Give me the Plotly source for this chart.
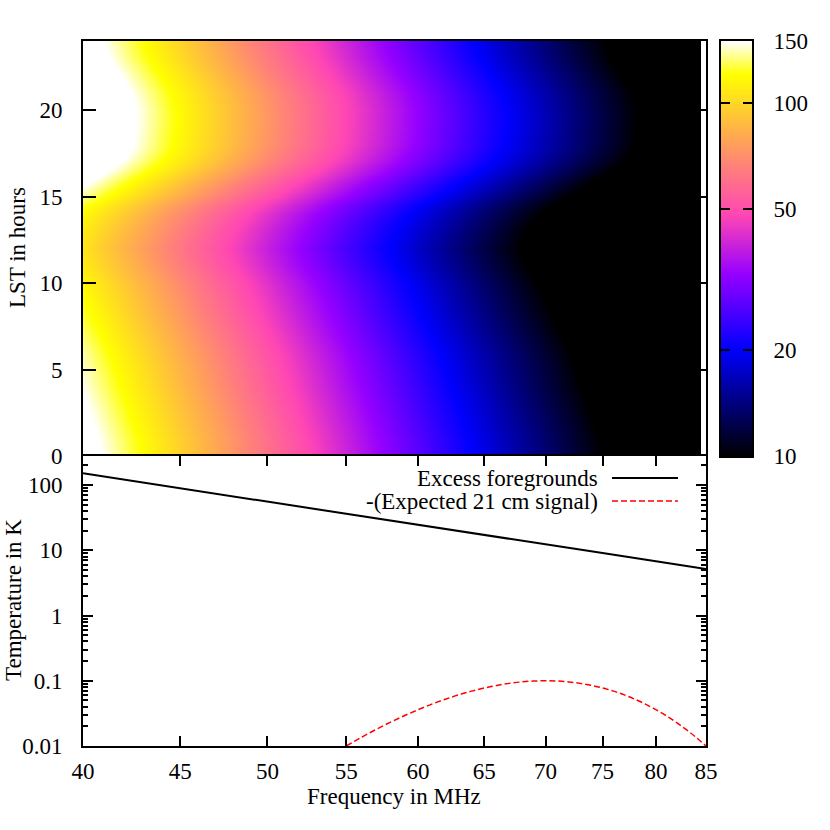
"""Sky temperature vs. frequency and LST, with foregrounds and 21 cm signal below."""

import numpy as np
import plotly.graph_objects as go

W, H = 830, 830
FONT = "Liberation Serif"
FS = 23

# heatmap, T in K: one row per LST value, one column per frequency
freq_map = [40, 45, 50, 55, 60, 65, 70, 75, 80, 84.0, 84.3]
lst = [0, 1, 2, 3, 4, 5, 6, 7, 8, 9, 10, 11, 12, 13, 14, 14.5, 15, 15.5, 16, 16.5,
       17, 17.5, 18, 19, 20, 21, 22, 23, 24]
temp_map = [
    [166, 98.1, 61.2, 40.0, 27.1, 18.9, 13.6, 10.0, 7.49, 6.03, 5.93],
    [163, 96.4, 60.1, 39.3, 26.6, 18.6, 13.4, 9.81, 7.35, 5.92, 5.82],
    [158, 93.4, 58.3, 38.0, 25.8, 18.0, 13.0, 9.51, 7.13, 5.74, 5.64],
    [153, 90.5, 56.4, 36.8, 25.0, 17.5, 12.5, 9.21, 6.90, 5.55, 5.46],
    [148, 87.5, 54.6, 35.6, 24.2, 16.9, 12.1, 8.91, 6.67, 5.37, 5.28],
    [144, 85.1, 53.1, 34.7, 23.5, 16.4, 11.8, 8.67, 6.49, 5.23, 5.14],
    [139, 82.2, 51.3, 33.5, 22.7, 15.9, 11.4, 8.37, 6.27, 5.05, 4.96],
    [133, 78.6, 49.1, 32.0, 21.7, 15.2, 10.9, 8.01, 6.00, 4.83, 4.75],
    [127, 75.1, 46.8, 30.6, 20.7, 14.5, 10.4, 7.65, 5.73, 4.61, 4.53],
    [122, 72.1, 45.0, 29.4, 19.9, 13.9, 10.0, 7.34, 5.50, 4.43, 4.36],
    [117, 69.2, 43.1, 28.2, 19.1, 13.3, 9.59, 7.04, 5.28, 4.25, 4.18],
    [110, 65.0, 40.6, 26.5, 18.0, 12.6, 9.02, 6.62, 4.96, 3.99, 3.93],
    [106, 62.7, 39.1, 25.5, 17.3, 12.1, 8.69, 6.38, 4.78, 3.85, 3.78],
    [110, 65.0, 40.6, 26.5, 18.0, 12.6, 9.02, 6.62, 4.96, 3.99, 3.93],
    [118, 69.8, 43.5, 28.4, 19.3, 13.5, 9.68, 7.10, 5.32, 4.28, 4.21],
    [126, 74.5, 46.5, 30.3, 20.6, 14.4, 10.3, 7.59, 5.68, 4.57, 4.50],
    [137, 81.0, 50.5, 33.0, 22.4, 15.6, 11.2, 8.25, 6.18, 4.97, 4.89],
    [148, 87.5, 54.6, 35.6, 24.2, 16.9, 12.1, 8.91, 6.67, 5.37, 5.28],
    [160, 94.6, 59.0, 38.5, 26.1, 18.3, 13.1, 9.63, 7.22, 5.81, 5.71],
    [172, 102, 63.4, 41.4, 28.1, 19.6, 14.1, 10.4, 7.76, 6.24, 6.14],
    [184, 109, 67.9, 44.3, 30.0, 21.0, 15.1, 11.1, 8.30, 6.68, 6.57],
    [192, 114, 70.8, 46.2, 31.3, 21.9, 15.7, 11.6, 8.66, 6.97, 6.85],
    [197, 116, 72.7, 47.4, 32.2, 22.5, 16.2, 11.9, 8.88, 7.15, 7.03],
    [200, 118, 73.8, 48.2, 32.6, 22.8, 16.4, 12.0, 9.02, 7.26, 7.14],
    [200, 118, 73.8, 48.2, 32.6, 22.8, 16.4, 12.0, 9.02, 7.26, 7.14],
    [195, 115, 71.9, 47.0, 31.8, 22.2, 16.0, 11.7, 8.79, 7.08, 6.96],
    [184, 109, 67.9, 44.3, 30.0, 21.0, 15.1, 11.1, 8.30, 6.68, 6.57],
    [173, 102, 63.8, 41.7, 28.2, 19.7, 14.2, 10.4, 7.80, 6.28, 6.18],
    [167, 98.7, 61.6, 40.2, 27.3, 19.1, 13.7, 10.1, 7.53, 6.06, 5.96],
]

# lower panel
freq_fg = [40, 45, 50, 55, 60, 65, 70, 75, 80, 85]
temp_fg = [151, 88.7, 55.2, 36.0, 24.5, 17.2, 12.3, 9.06, 6.80, 5.17]
freq_21cm = [55, 56, 57, 58, 59, 60, 61, 62, 63, 64, 65, 66, 67, 68, 69, 70,
             71, 72, 73, 74, 75, 76, 77, 78, 79, 80, 81, 82, 83, 84, 85]
temp_21cm = [0.0100, 0.0135, 0.0178, 0.0230, 0.0291, 0.0360, 0.0438, 0.0520, 0.0607, 0.0693,
             0.0775, 0.0849, 0.0912, 0.0960, 0.0990, 0.1000, 0.0990, 0.0960, 0.0912, 0.0849,
             0.0775, 0.0693, 0.0607, 0.0520, 0.0438, 0.0360, 0.0291, 0.0230, 0.0178, 0.0135, 0.0100]

x_ticks = [40, 45, 50, 55, 60, 65, 70, 75, 80, 85]
lst_ticks = [0, 5, 10, 15, 20]
temp_ticks = [0.01, 0.1, 1, 10, 100]
temp_labels = ["0.01", "0.1", "1", "10", "100"]
cb_levels = [10, 20, 50, 100, 150]
cb_pos = [0, 1]

# palette (position along log10 T)
palette = [
    [0.0, "#000000"],
    [0.26, "#0000ff"],
    [0.44, "#9600ff"],
    [0.58, "#ff46b4"],
    [0.70, "#ff8278"],
    [0.79, "#ffb446"],
    [0.92, "#ffff00"],
    [1.0, "#ffffff"],
]


def _px(x):
    return x / W


def _py(y):
    return 1 - y / H


fig = go.Figure()

fig.add_trace(go.Heatmap(
    x=freq_map, y=lst, z=np.log10(temp_map).tolist(), coloraxis="coloraxis",
    zsmooth="best", xaxis="x", yaxis="y", hoverinfo="skip",
))
fig.add_trace(go.Scatter(
    x=freq_fg, y=temp_fg, mode="lines", line=dict(color="black", width=2),
    xaxis="x2", yaxis="y2", showlegend=False,
))
fig.add_trace(go.Scatter(
    x=freq_21cm, y=temp_21cm, mode="lines",
    line=dict(color="#ff0000", width=1.5, dash="6px,3px", shape="spline"),
    xaxis="x2", yaxis="y2", showlegend=False,
))
fig.add_trace(go.Heatmap(
    x=cb_pos, y=cb_levels, z=[[v, v] for v in np.log10(cb_levels).tolist()], coloraxis="coloraxis",
    zsmooth="best", xaxis="x3", yaxis="y3", hoverinfo="skip",
))

axis_common = dict(showgrid=False, zeroline=False, showline=True, linecolor="black",
                   linewidth=1.8, tickcolor="black", tickwidth=1.5, automargin=False,
                   tickfont=dict(family=FONT, size=FS, color="black"))
x_dom = [_px(83), _px(706)]
x_range = [np.log10(40), np.log10(85)]

fig.update_layout(
    width=W, height=H,
    margin=dict(l=0, r=0, t=0, b=0),
    paper_bgcolor="white", plot_bgcolor="white",
    font=dict(family=FONT, size=FS, color="black"),
    coloraxis=dict(colorscale=palette, cmin=1, cmax=np.log10(150), showscale=False),
    # only the top frame line here, the lower panel draws the shared line at 0 h
    xaxis=dict(axis_common, domain=x_dom, type="log", range=x_range, anchor="y", side="top",
               ticks="", showticklabels=False),
    yaxis=dict(axis_common, domain=[_py(456), _py(41)], range=[0, 24], anchor="x",
               mirror="allticks", ticks="inside", ticklen=13, tickvals=lst_ticks,
               ticklabelstandoff=14),
    xaxis2=dict(axis_common, domain=x_dom, type="log", range=x_range, anchor="y2",
                mirror="allticks", ticks="inside", ticklen=10, tickvals=x_ticks,
                ticktext=[str(v) for v in x_ticks], ticklabelstandoff=3),
    yaxis2=dict(axis_common, domain=[_py(746), _py(456)], type="log", range=[-2, 2.445], anchor="x2",
                mirror="allticks", ticks="inside", ticklen=10, tickvals=temp_ticks, ticktext=temp_labels,
                ticklabelstandoff=14,
                minor=dict(ticks="inside", ticklen=5, tickcolor="black", tickwidth=1.5,
                           tickvals=[m * 10.0**e for e in range(-2, 3) for m in range(2, 10)])),
    xaxis3=dict(axis_common, domain=[_px(721), _px(752)], range=[0, 1], anchor="y3",
                mirror=True, ticks="", showticklabels=False),
    yaxis3=dict(axis_common, domain=[_py(456), _py(41)], type="log", range=[1, np.log10(150)], anchor="x3",
                side="right", mirror="allticks", ticks="inside", ticklen=9, tickvals=cb_levels,
                ticktext=[str(v) for v in cb_levels], ticklabelstandoff=15),
)

# axis titles
for text, x, y, angle in [
    ("LST in hours", 17, 248, -90),
    ("Temperature in K", 13, 600, -90),
    ("Frequency in MHz", 394, 796, 0),
]:
    fig.add_annotation(text=text, xref="paper", yref="paper", x=_px(x), y=_py(y),
                       xanchor="center", yanchor="middle", showarrow=False, textangle=angle,
                       font=dict(family=FONT, size=FS, color="black"))

# gnuplot style key: text on the left of the line sample
for text, y in [("Excess foregrounds", 478), ("-(Expected 21 cm signal)", 501)]:
    fig.add_annotation(text=text, xref="paper", yref="paper", x=_px(600), y=_py(y),
                       xanchor="right", yanchor="middle", showarrow=False,
                       font=dict(family=FONT, size=FS, color="black"))
fig.add_shape(type="line", xref="paper", yref="paper", x0=_px(612), x1=_px(678), y0=_py(478), y1=_py(478),
              line=dict(color="black", width=2))
fig.add_shape(type="line", xref="paper", yref="paper", x0=_px(612), x1=_px(678), y0=_py(501), y1=_py(501),
              line=dict(color="#ff0000", width=1.5, dash="6px,3px"))

# drop the page's default body margin so the 830 px figure fills the window
fig.write_html("out.html", config=dict(displayModeBar=False),
               post_script="document.body.style.margin = '0';")
